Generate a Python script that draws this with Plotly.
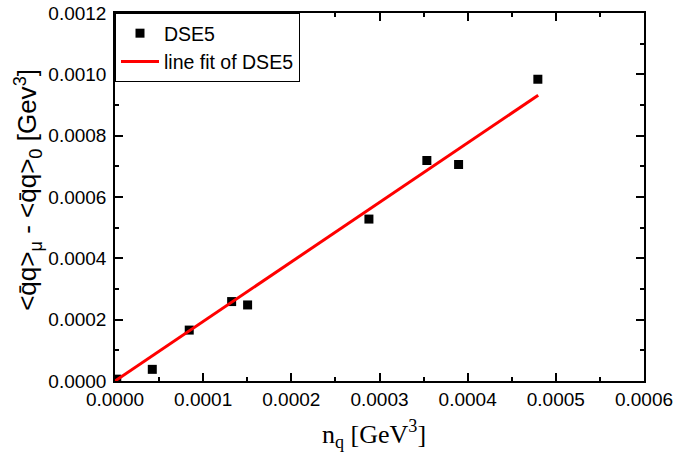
import plotly.graph_objects as go

# data
nq = [0.000002, 0.0000423, 0.0000842, 0.0001323, 0.0001504, 0.000288, 0.0003537, 0.0003897, 0.0004796]
dqq = [0.000006, 0.000038, 0.000166, 0.000259, 0.000248, 0.000528, 0.000719, 0.000706, 0.000984]
fit_x = [0.0, 0.00048]
fit_y = [0.0, 0.000932]
x_ticks = [0.0, 0.0001, 0.0002, 0.0003, 0.0004, 0.0005, 0.0006]
y_ticks = [0.0, 0.0002, 0.0004, 0.0006, 0.0008, 0.0010, 0.0012]

fig = go.Figure()
fig.add_trace(go.Scatter(x=nq, y=dqq, mode="markers", name="DSE5",
                         marker=dict(symbol="square", size=9, color="black")))
fig.add_trace(go.Scatter(x=fit_x, y=fit_y, mode="lines", name="line fit of DSE5",
                         line=dict(color="red", width=3)))

axis_common = dict(showgrid=False, zeroline=False, showline=True, linecolor="black",
                   linewidth=1.5, mirror="allticks", ticks="inside", ticklen=8,
                   tickwidth=1.5, tickcolor="black", automargin=False,
                   ticklabeloverflow="allow",
                   tickfont=dict(family="Liberation Sans, Arial", size=19, color="black"))

fig.update_xaxes(range=[0, 0.0006], tickvals=x_ticks,
                 ticktext=[f"{v:.4f}" for v in x_ticks],
                 minor=dict(ticks="inside", ticklen=4, tickwidth=1.5, tickcolor="black", dtick=0.00005),
                 **axis_common)
fig.update_yaxes(range=[0, 0.0012], tickvals=y_ticks,
                 ticktext=[f"{v:.4f}" for v in y_ticks],
                 minor=dict(ticks="inside", ticklen=4, tickwidth=1.5, tickcolor="black", dtick=0.0001),
                 ticklabelstandoff=3,
                 **axis_common)

fig.add_annotation(text="n<sub>q</sub> [GeV<sup>3</sup>]", xref="paper", yref="paper",
                   x=0.49, y=-0.144, xanchor="center", yanchor="middle", showarrow=False,
                   font=dict(family="Liberation Serif, Times New Roman", size=26, color="black"))
fig.add_annotation(text="&lt;q\u0304q&gt;<sub>\u03bc</sub> - &lt;q\u0304q&gt;<sub>0</sub> [Gev<sup>3</sup>]",
                   xref="paper", yref="paper", x=-0.166, y=0.52, textangle=-90,
                   xanchor="center", yanchor="middle", showarrow=False,
                   font=dict(family="Liberation Sans, Arial", size=26, color="black"))

fig.update_layout(width=676, height=455,
                  margin=dict(l=115, r=32, t=13, b=74),
                  plot_bgcolor="white", paper_bgcolor="white",
                  legend=dict(x=0, y=1, xanchor="left", yanchor="top",
                              bordercolor="black", borderwidth=1, bgcolor="white",
                              font=dict(family="Liberation Sans, Arial", size=19.5, color="black"),
                              tracegroupgap=0, itemwidth=38))

fig.write_html("out.html", config={"displayModeBar": False},
               post_script="document.body.style.margin='0px';document.body.style.overflow='hidden';")
